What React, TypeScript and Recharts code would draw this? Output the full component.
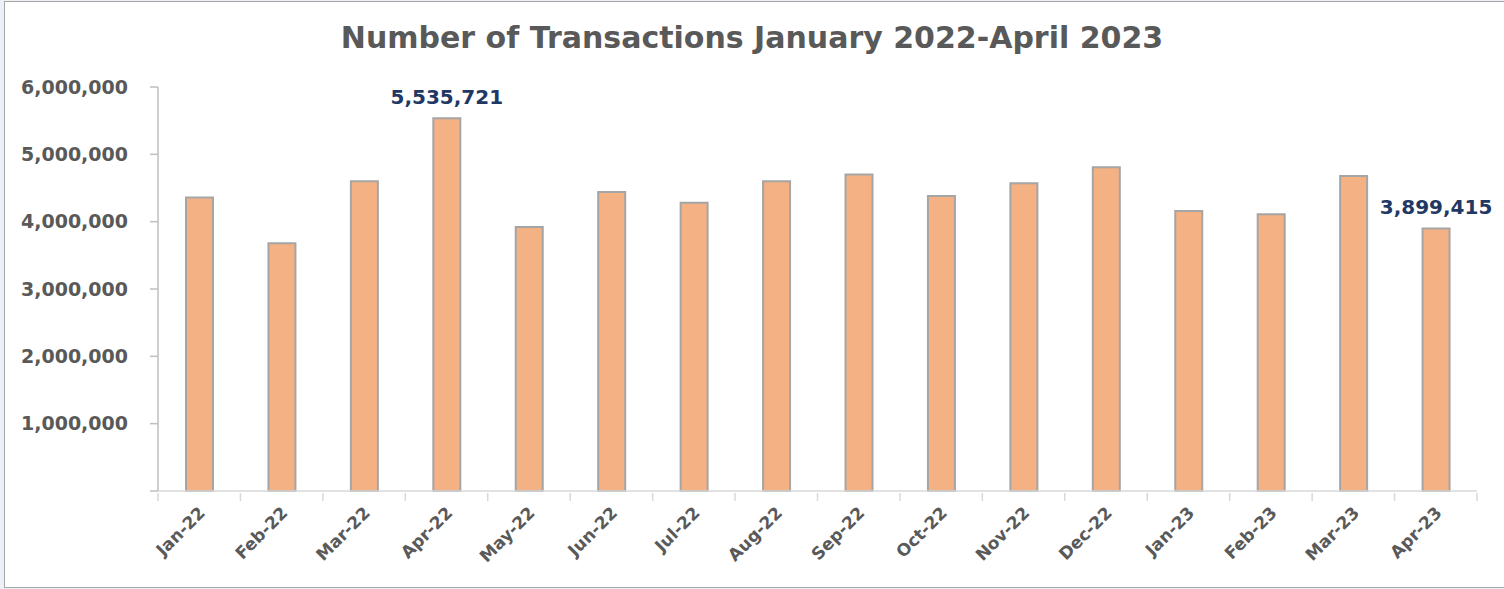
import React from "react";
import {
  BarChart, Bar, XAxis, YAxis, LabelList,
} from "recharts";

const months = [
  "Jan-22", "Feb-22", "Mar-22", "Apr-22", "May-22", "Jun-22", "Jul-22", "Aug-22",
  "Sep-22", "Oct-22", "Nov-22", "Dec-22", "Jan-23", "Feb-23", "Mar-23", "Apr-23",
];
const transactions = [
  4360000, 3680000, 4600000, 5535721, 3920000, 4440000, 4280000, 4600000,
  4700000, 4380000, 4570000, 4810000, 4160000, 4110000, 4680000, 3899415,
];
const labelledMonths = ["Apr-22", "Apr-23"];
const yTicks = [0, 1000000, 2000000, 3000000, 4000000, 5000000, 6000000];

const data = months.map((month, i) => ({
  month,
  total: transactions[i],
  shown: labelledMonths.includes(month) ? transactions[i] : undefined,
}));

const FONT = "'DejaVu Sans', sans-serif";
const GREY = "#595959";
const AXIS_GREY = "#D9D9D9";

// excel puts the x tick marks between categories, so draw them from the band edges
function MonthTick({ x, y, payload, index }: any) {
  const half = payload.offset || 41.2;
  const isLast = index === months.length - 1;
  return (
    <g>
      <line x1={x - half} x2={x - half} y1={y - 8} y2={y} stroke={AXIS_GREY} strokeWidth={1.5} />
      {isLast && (
        <line x1={x + half} x2={x + half} y1={y - 8} y2={y} stroke={AXIS_GREY} strokeWidth={1.5} />
      )}
      <text
        x={x + 7}
        y={y + 13}
        transform={`rotate(-45, ${x + 7}, ${y + 13})`}
        textAnchor="end"
        fill={GREY}
        fontSize={17}
        fontWeight="bold"
        fontFamily={FONT}
      >
        {payload.value}
      </text>
    </g>
  );
}

export default function App() {
  return (
    <div style={{ position: "absolute", left: 0, top: 0, width: 1504, height: 589, background: "#EDF0F6" }}>
      <div
        style={{
          position: "absolute", left: 4, top: 1, width: 1500, height: 585,
          background: "#fff", borderLeft: "1px solid #A6A6A6", borderTop: "1px solid #A6A6A6",
          borderBottom: "1px solid #A6A6A6",
        }}
      />
      <div
        style={{
          position: "absolute", left: 0, top: 20, width: 1504, textAlign: "center",
          fontFamily: FONT, fontWeight: "bold", fontSize: 30, color: GREY, lineHeight: "36px",
        }}
      >
        Number of Transactions January 2022-April 2023
      </div>
      <div style={{ position: "absolute", left: 0, top: 0 }}>
        <BarChart
          width={1504}
          height={589}
          data={data}
          margin={{ top: 87, right: 27, left: 28, bottom: 28 }}
          barCategoryGap={0}
        >
          <XAxis
            dataKey="month"
            height={70}
            tick={<MonthTick />}
            tickLine={false}
            tickSize={8}
            axisLine={{ stroke: AXIS_GREY, strokeWidth: 1.5 }}
            interval={0}
          />
          <YAxis
            width={130}
            domain={[0, 6000000]}
            ticks={yTicks}
            tickFormatter={(v: number) => (v === 0 ? "" : v.toLocaleString("en-US"))}
            tick={{ fill: GREY, fontSize: 19, fontFamily: FONT, fontWeight: "bold" }}
            axisLine={{ stroke: "#BFBFBF", strokeWidth: 1.5 }}
            tickLine={{ stroke: "#BFBFBF", strokeWidth: 1.5 }}
            tickSize={8}
            tickMargin={22}
          />
          <Bar
            dataKey="total"
            fill="#F4B183"
            stroke="#A5A5A5"
            strokeWidth={2}
            barSize={27}
            isAnimationActive={false}
          >
            <LabelList
              dataKey="shown"
              position="top"
              offset={14}
              formatter={(v: any) => (v == null ? "" : Number(v).toLocaleString("en-US"))}
              style={{ fill: "#1F3864", fontSize: 20, fontFamily: FONT, fontWeight: "bold" }}
            />
          </Bar>
        </BarChart>
      </div>
    </div>
  );
}
